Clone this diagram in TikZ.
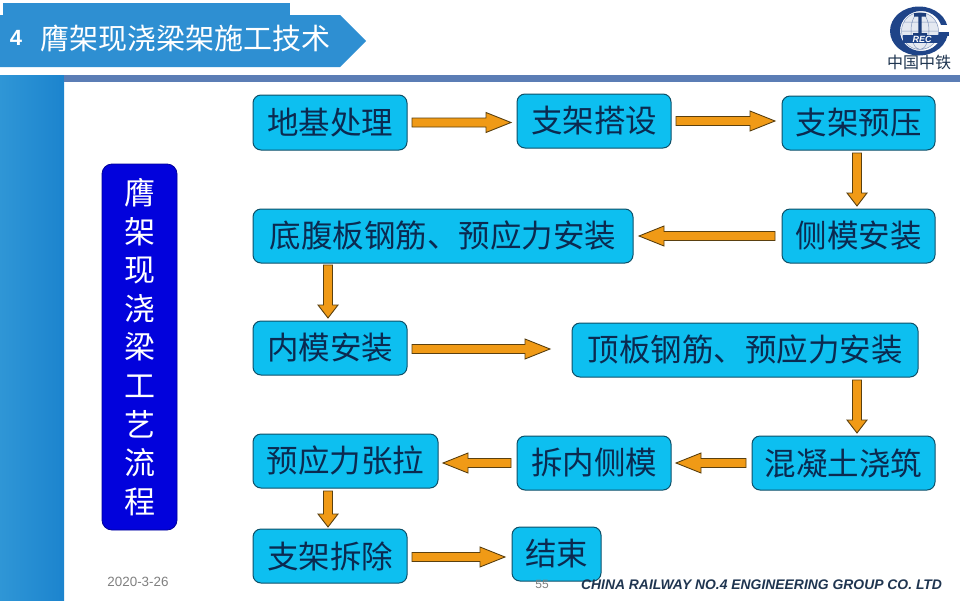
\documentclass[tikz,border=0pt]{standalone}
\usepackage{fontspec}
\usetikzlibrary{calc}
\setmainfont{Liberation Sans}
\newfontfamily\cjk{Noto Sans CJK SC}
\definecolor{bandL}{HTML}{2F96D6}
\definecolor{bandR}{HTML}{1C84CE}
\definecolor{titleblue}{HTML}{2E8FD2}
\definecolor{rulec}{HTML}{5B7DB5}
\definecolor{boxfill}{HTML}{0DBFF0}
\definecolor{boxline}{HTML}{0E5068}
\definecolor{boxtext}{HTML}{0B2A50}
\definecolor{sidefill}{HTML}{0202DC}
\definecolor{arrowfill}{HTML}{F09A16}
\definecolor{arrowline}{HTML}{5A4010}
\definecolor{logoblue}{HTML}{1F4488}
\definecolor{footc}{HTML}{1F3550}
\tikzset{
  stepbox/.style={draw=boxline,fill=boxfill,line width=1pt,rounded corners=8pt,
    inner sep=0pt,outer sep=0pt,text=boxtext,font=\cjk\fontsize{31.5}{36}\selectfont},
  sidebox/.style={draw=sidefill!70!black,fill=sidefill,line width=.8pt,rounded corners=10pt,
    inner sep=0pt,outer sep=0pt,text=white,align=center,font=\cjk\fontsize{31}{38.6}\selectfont},
  blockarrow/.style={draw=arrowline,fill=arrowfill,line width=.9pt,line join=miter},
  foot/.style={inner sep=0pt,outer sep=0pt}
}
% from, to, head length
\newcommand{\blockarr}[3]{%
  \coordinate (s) at #1;
  \coordinate (e) at #2;
  \coordinate (hb) at ($(e)!#3!(s)$);
  \draw[blockarrow] ($(s)!4.5pt!90:(e)$) -- ($(hb)!4.5pt!-90:(s)$) -- ($(hb)!10pt!-90:(s)$)
    -- (e) -- ($(hb)!10pt!90:(s)$) -- ($(hb)!4.5pt!90:(s)$) -- ($(s)!4.5pt!-90:(e)$) -- cycle;
}
\begin{document}
\begin{tikzpicture}[x=1pt,y=-1pt]
\useasboundingbox (0,0) rectangle (960,600);
\fill[white] (0,0) rectangle (960,600);
% frame
\fill[left color=bandL,right color=bandR] (0,75) rectangle (64,600);
\fill[rulec] (64,75) rectangle (960,82);
% title
\fill[titleblue] (3,3) rectangle (290,16);
\fill[titleblue] (0,15) -- (340,15) -- (366,41) -- (340,67) -- (0,67) -- cycle;
\node[text=white,inner sep=0pt,font=\bfseries\fontsize{22}{24}\selectfont] (tnum) at (16,38) {4};
\node[text=white,inner sep=0pt,anchor=west,font=\cjk\fontsize{29}{32}\selectfont] (title) at (40,38) {膺架现浇梁架施工技术};
% logo
\fill[logoblue,even odd rule] (919,31) ellipse [x radius=29,y radius=24.5] (921,31) ellipse [x radius=21,y radius=20];
\fill[white] (932,25) rectangle (950,31.5);
\fill[logoblue] (930,31.5) rectangle (949,36);
\fill[logoblue!12] (920,31) circle [radius=18.5];
\draw[logoblue!55,line width=.5pt] (920,31) circle [radius=18.5]
  (920,31) ellipse [x radius=9,y radius=18.5] (902,31) -- (938,31) (904,22) -- (936,22);
\fill[logoblue!90!black] (914,13) rectangle (926,16.5) (918.3,16) rectangle (921.7,35) (913,33) rectangle (927,36);
\fill[logoblue] (903,35) rectangle (943,43);
\node[text=white,inner sep=0pt,font=\bfseries\itshape\fontsize{9}{10}\selectfont] (reg) at (922,39) {REC};
\node[text=footc,inner sep=0pt,font=\cjk\fontsize{16}{17}\selectfont] (logotext) at (919,62) {中国中铁};
% side box
\node[sidebox,minimum width=75pt,minimum height=366pt] (side) at (139.5,347)
  {膺\\架\\现\\浇\\梁\\工\\艺\\流\\程};
% steps
\node[stepbox,minimum width=154pt,minimum height=55pt] (a1) at (330,122.5) {地基处理};
\node[stepbox,minimum width=154pt,minimum height=54pt] (a2) at (594,121) {支架搭设};
\node[stepbox,minimum width=153pt,minimum height=54pt] (a3) at (858.5,123) {支架预压};
\node[stepbox,minimum width=153pt,minimum height=54pt] (b2) at (858.5,236) {侧模安装};
\node[stepbox,minimum width=380pt,minimum height=54pt] (b1) at (443,236) {底腹板钢筋、预应力安装};
\node[stepbox,minimum width=154pt,minimum height=54pt] (c1) at (330,348) {内模安装};
\node[stepbox,minimum width=346pt,minimum height=54pt] (c2) at (745,350) {顶板钢筋、预应力安装};
\node[stepbox,minimum width=183pt,minimum height=54pt] (d3) at (843.5,463) {混凝土浇筑};
\node[stepbox,minimum width=154pt,minimum height=54pt] (d2) at (594,463) {拆内侧模};
\node[stepbox,minimum width=185pt,minimum height=54pt] (d1) at (345.5,461) {预应力张拉};
\node[stepbox,minimum width=154pt,minimum height=54pt] (e1) at (330,556) {支架拆除};
\node[stepbox,minimum width=89pt,minimum height=54pt] (e2) at (556.5,554) {结束};
% connectors (yshift is in canvas direction: negative is down the page)
\blockarr{([xshift=5pt]a1.east)}{([xshift=-6pt]a1.east -| a2.west)}{25pt}
\blockarr{([xshift=5pt]a2.east)}{([xshift=-7pt]a2.east -| a3.west)}{25pt}
\blockarr{([xshift=-1.5pt,yshift=-3pt]a3.south)}{([xshift=-1.5pt,yshift=3pt]b2.north)}{13pt}
\blockarr{([xshift=-7pt]b2.west)}{([xshift=6pt]b2.west -| b1.east)}{25pt}
\blockarr{([xshift=-2pt,yshift=-2pt]b1.south -| c1.north)}{([xshift=-2pt,yshift=3pt]c1.north)}{13pt}
\blockarr{([xshift=5pt,yshift=-1pt]c1.east)}{([xshift=-22pt,yshift=-1pt]c1.east -| c2.west)}{25pt}
\blockarr{([xshift=112pt,yshift=-3pt]c2.south)}{([xshift=13.5pt,yshift=3pt]d3.north)}{13pt}
\blockarr{([xshift=-6pt]d3.west)}{([xshift=5pt]d3.west -| d2.east)}{25pt}
\blockarr{([xshift=-6pt]d2.west)}{([xshift=5pt]d2.west -| d1.east)}{25pt}
\blockarr{([xshift=-2pt,yshift=-3pt]d1.south -| e1.north)}{([xshift=-2pt,yshift=2pt]e1.north)}{13pt}
\blockarr{([xshift=5pt,yshift=-1pt]e1.east)}{([xshift=-7pt,yshift=-1pt]e1.east -| e2.west)}{25pt}
% footer
\node[foot,text=black!50,font=\fontsize{13.4}{15}\selectfont] (date) at (138,582) {2020-3-26};
\node[foot,text=black!50,font=\fontsize{12}{14}\selectfont] (page) at (542,584) {55};
\node[foot,text=footc,anchor=east,font=\bfseries\itshape\fontsize{13.9}{16}\selectfont] (co) at (942,585) {CHINA RAILWAY NO.4 ENGINEERING GROUP CO. LTD};
\end{tikzpicture}
\end{document}
